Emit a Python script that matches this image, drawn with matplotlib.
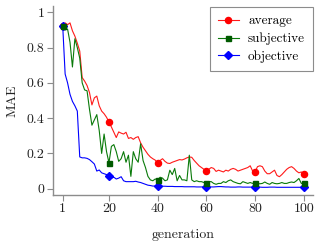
import matplotlib
matplotlib.use("Agg")
import matplotlib.pyplot as plt
import numpy as np

generations = list(range(1, 101))

average = [
    0.924, 0.94, 0.93, 0.94, 0.895, 0.865, 0.825, 0.78, 0.63, 0.61,
    0.585, 0.545, 0.475, 0.515, 0.525, 0.47, 0.44, 0.425, 0.405, 0.378,
    0.35, 0.32, 0.29, 0.322, 0.315, 0.31, 0.32, 0.285, 0.29, 0.28,
    0.29, 0.295, 0.26, 0.235, 0.215, 0.195, 0.18, 0.17, 0.162, 0.145,
    0.16, 0.17, 0.155, 0.145, 0.143, 0.15, 0.155, 0.16, 0.165, 0.163,
    0.168, 0.175, 0.18, 0.178, 0.16, 0.145, 0.13, 0.12, 0.11, 0.103,
    0.11, 0.12, 0.115, 0.098, 0.105, 0.1, 0.095, 0.105, 0.1, 0.11,
    0.115, 0.11, 0.1, 0.105, 0.11, 0.115, 0.12, 0.13, 0.1, 0.095,
    0.125, 0.13, 0.125, 0.1, 0.085, 0.085, 0.095, 0.105, 0.075, 0.068,
    0.08, 0.095, 0.11, 0.12, 0.125, 0.115, 0.1, 0.09, 0.095, 0.083,
]

subjective = [
    0.924, 0.9, 0.905, 0.83, 0.69, 0.85, 0.8, 0.74, 0.6, 0.56,
    0.555, 0.45, 0.36, 0.39, 0.42, 0.33, 0.2, 0.31, 0.21, 0.147,
    0.24, 0.25, 0.21, 0.155, 0.17, 0.21, 0.15, 0.19, 0.07, 0.21,
    0.17, 0.15, 0.255, 0.16, 0.12, 0.07, 0.05, 0.045, 0.055, 0.05,
    0.065, 0.06, 0.045, 0.05, 0.105, 0.08, 0.115, 0.045, 0.075, 0.05,
    0.05, 0.045, 0.19, 0.05, 0.04, 0.045, 0.04, 0.04, 0.035, 0.035,
    0.04, 0.04, 0.03, 0.025, 0.03, 0.03, 0.04, 0.035, 0.045, 0.05,
    0.04, 0.035, 0.03, 0.028, 0.04, 0.035, 0.03, 0.035, 0.03, 0.035,
    0.03, 0.028, 0.03, 0.038, 0.03, 0.025, 0.035, 0.03, 0.028, 0.03,
    0.035, 0.03, 0.03, 0.035, 0.038, 0.035, 0.045, 0.058, 0.03, 0.03,
]

objective = [
    0.924, 0.65, 0.6, 0.535, 0.495, 0.47, 0.44, 0.18, 0.175, 0.175,
    0.172, 0.165, 0.153, 0.14, 0.1, 0.106, 0.09, 0.085, 0.08, 0.072,
    0.06, 0.065, 0.055, 0.06, 0.068, 0.045, 0.04, 0.04, 0.04, 0.04,
    0.042, 0.038, 0.035, 0.03, 0.025, 0.02, 0.018, 0.015, 0.015, 0.015,
    0.015, 0.014, 0.014, 0.013, 0.013, 0.013, 0.012, 0.012, 0.012, 0.012,
    0.011, 0.011, 0.011, 0.011, 0.011, 0.01, 0.01, 0.01, 0.01, 0.01,
    0.01, 0.01, 0.01, 0.011, 0.012, 0.012, 0.011, 0.01, 0.01, 0.009,
    0.009, 0.009, 0.01, 0.01, 0.009, 0.009, 0.009, 0.009, 0.009, 0.009,
    0.009, 0.009, 0.008, 0.008, 0.008, 0.009, 0.009, 0.009, 0.008, 0.008,
    0.008, 0.008, 0.008, 0.008, 0.008, 0.008, 0.008, 0.008, 0.008, 0.008,
]

x_ticks = [1, 20, 40, 60, 80, 100]
y_ticks = [0, 0.2, 0.4, 0.6, 0.8, 1]
y_tick_labels = ["0", "0.2", "0.4", "0.6", "0.8", "1"]
marker_gens = [1, 20, 40, 60, 80, 100]
labels = ["average", "subjective", "objective"]

plt.rcParams["font.family"] = ["cmr10", "DejaVu Serif"]
plt.rcParams["mathtext.fontset"] = "cm"
plt.rcParams["axes.formatter.use_mathtext"] = True

fig = plt.figure(figsize=(3.18, 2.48), dpi=100)
ax = fig.add_axes([0.1667, 0.2137, 0.8176, 0.763])

marker_idx = [g - 1 for g in marker_gens]
ax.plot(generations, objective, color="#0000ff", lw=0.8, marker="D", ms=3.6,
        markevery=marker_idx, mec="#0000ff", mfc="#0000ff", label=labels[2], zorder=3)
ax.plot(generations, subjective, color="#0a7a0a", lw=0.8, marker="s", ms=3.6,
        markevery=marker_idx, mec="#005a00", mfc="#005a00", label=labels[1], zorder=4)
ax.plot(generations, average, color="#ff1a1a", lw=0.8, marker="o", ms=4.4,
        markevery=marker_idx, mec="#ff0000", mfc="#ff0000", label=labels[0], zorder=2)

ax.set_xlim(-2.98, 103.8)
ax.set_ylim(-0.0357, 1.037)
ax.set_xticks(x_ticks)
ax.set_xticklabels([str(t) for t in x_ticks])
ax.set_yticks(y_ticks)
ax.set_yticklabels(y_tick_labels)

for s in ["top", "right"]:
    ax.spines[s].set_visible(False)
for s in ["left", "bottom"]:
    ax.spines[s].set_color("#8c8c8c")
    ax.spines[s].set_linewidth(1.0)
ax.tick_params(axis="both", direction="out", length=4, width=0.8, color="#8c8c8c",
               labelsize=10, pad=2, labelcolor="#222222")

ax.set_xlabel("generation", fontsize=10, labelpad=10, color="#222222")
ax.set_ylabel("MAE", fontsize=10, labelpad=6, color="#222222")

handles, lbls = ax.get_legend_handles_labels()
order = [2, 1, 0]
leg = ax.legend([handles[i] for i in order], [lbls[i] for i in order],
                loc="upper right", bbox_to_anchor=(1.0, 0.993), borderaxespad=0,
                fontsize=9.5, frameon=True,
                fancybox=False, edgecolor="#8c8c8c", framealpha=1,
                handlelength=1.6, borderpad=0.6, labelspacing=0.4, handletextpad=0.7)
leg.get_frame().set_linewidth(0.8)

fig.savefig("out.png", dpi=100)
